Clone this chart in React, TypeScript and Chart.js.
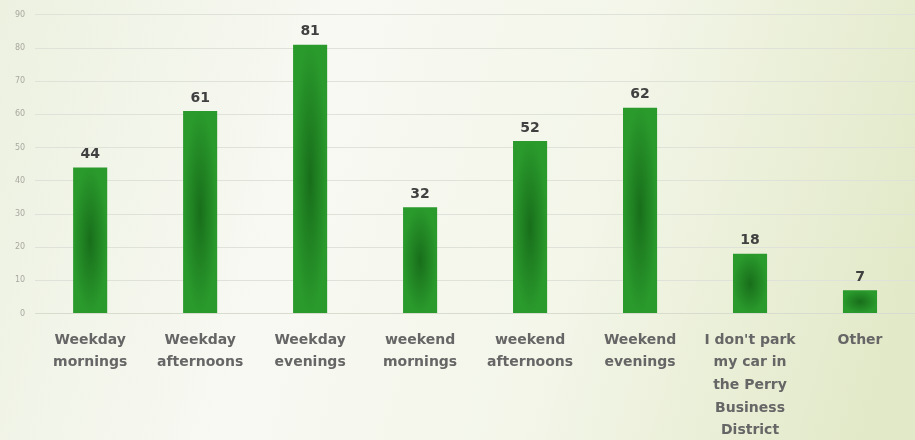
import React, { useEffect, useRef } from "react";
import { Chart, registerables } from "chart.js";

Chart.register(...registerables);

const categories: (string | string[])[] = [
  ["Weekday", "mornings"],
  ["Weekday", "afternoons"],
  ["Weekday", "evenings"],
  ["weekend", "mornings"],
  ["weekend", "afternoons"],
  ["Weekend", "evenings"],
  ["I don't park", "my car in", "the Perry", "Business", "District"],
  ["Other"],
];
const values: number[] = [44, 61, 81, 32, 52, 62, 18, 7];
const yMax = 90;
const yStep = 10;

const FONT = "'DejaVu Sans', sans-serif";

const bgPlugin = {
  id: "bgGrad",
  beforeDraw(chart: any) {
    const { ctx, width, height } = chart;
    ctx.save();
    const g = ctx.createLinearGradient(0, 0, width, height * 0.6);
    g.addColorStop(0, "#ecf1e0");
    g.addColorStop(0.35, "#f8f9f3");
    g.addColorStop(0.65, "#f3f6e9");
    g.addColorStop(1, "#e2e9c8");
    ctx.fillStyle = g;
    ctx.fillRect(0, 0, width, height);
    ctx.restore();
  },
};

const barShadePlugin = {
  id: "barShade",
  afterDatasetsDraw(chart: any) {
    const { ctx } = chart;
    const meta = chart.getDatasetMeta(0);
    meta.data.forEach((bar: any, i: number) => {
      const p = bar.getProps(["x", "y", "base", "width"], true);
      const left = p.x - p.width / 2;
      const top = Math.min(p.y, p.base);
      const h = Math.abs(p.base - p.y);
      ctx.save();
      ctx.beginPath();
      ctx.rect(left, top, p.width, h);
      ctx.clip();
      ctx.translate(p.x, top + h / 2);
      ctx.scale(p.width / 2, h / 2);
      const rg = ctx.createRadialGradient(0, 0, 0, 0, 0, 1);
      rg.addColorStop(0, "rgba(10,75,12,0.55)");
      rg.addColorStop(0.55, "rgba(10,75,12,0.25)");
      rg.addColorStop(1, "rgba(10,75,12,0)");
      ctx.fillStyle = rg;
      ctx.fillRect(-1.2, -1.2, 2.4, 2.4);
      ctx.restore();
      ctx.save();
      ctx.fillStyle = "#404040";
      ctx.font = `bold 14px ${FONT}`;
      ctx.textAlign = "center";
      ctx.textBaseline = "bottom";
      ctx.fillText(String(values[i]), p.x, top - 6);
      ctx.restore();
    });
  },
};

export default function App() {
  const ref = useRef<HTMLCanvasElement>(null);
  useEffect(() => {
    document.body.style.margin = "0";
    const chart = new Chart(ref.current!, {
      type: "bar",
      data: {
        labels: categories,
        datasets: [
          {
            data: values,
            backgroundColor: "#2a9a2c",
            borderWidth: 0,
            barPercentage: 0.62,
            categoryPercentage: 0.5,
          },
        ],
      },
      options: {
        animation: false,
        responsive: false,
        maintainAspectRatio: false,
        layout: { padding: { top: 9, left: 5, right: 0, bottom: -9 } },
        plugins: { legend: { display: false }, tooltip: { enabled: false } },
        scales: {
          x: {
            grid: { display: false },
            border: { display: true, color: "#d8dccf", width: 1 },
            ticks: {
              color: "#666666",
              font: { family: FONT, size: 14, weight: "bold", lineHeight: 1.62 },
              maxRotation: 0,
              autoSkip: false,
              padding: 7,
            },
          },
          y: {
            min: 0,
            max: yMax,
            ticks: {
              stepSize: yStep,
              color: "#a8a8a0",
              font: { family: FONT, size: 8 },
              padding: 10,
            },
            grid: { color: "#dfe2d8", lineWidth: 1, drawTicks: false },
            border: { display: false },
          },
        },
      },
      plugins: [bgPlugin, barShadePlugin],
    });
    return () => chart.destroy();
  }, []);
  return (
    <div style={{ width: 915, height: 440 }}>
      <canvas ref={ref} width={915} height={440} style={{ display: "block" }} />
    </div>
  );
}
